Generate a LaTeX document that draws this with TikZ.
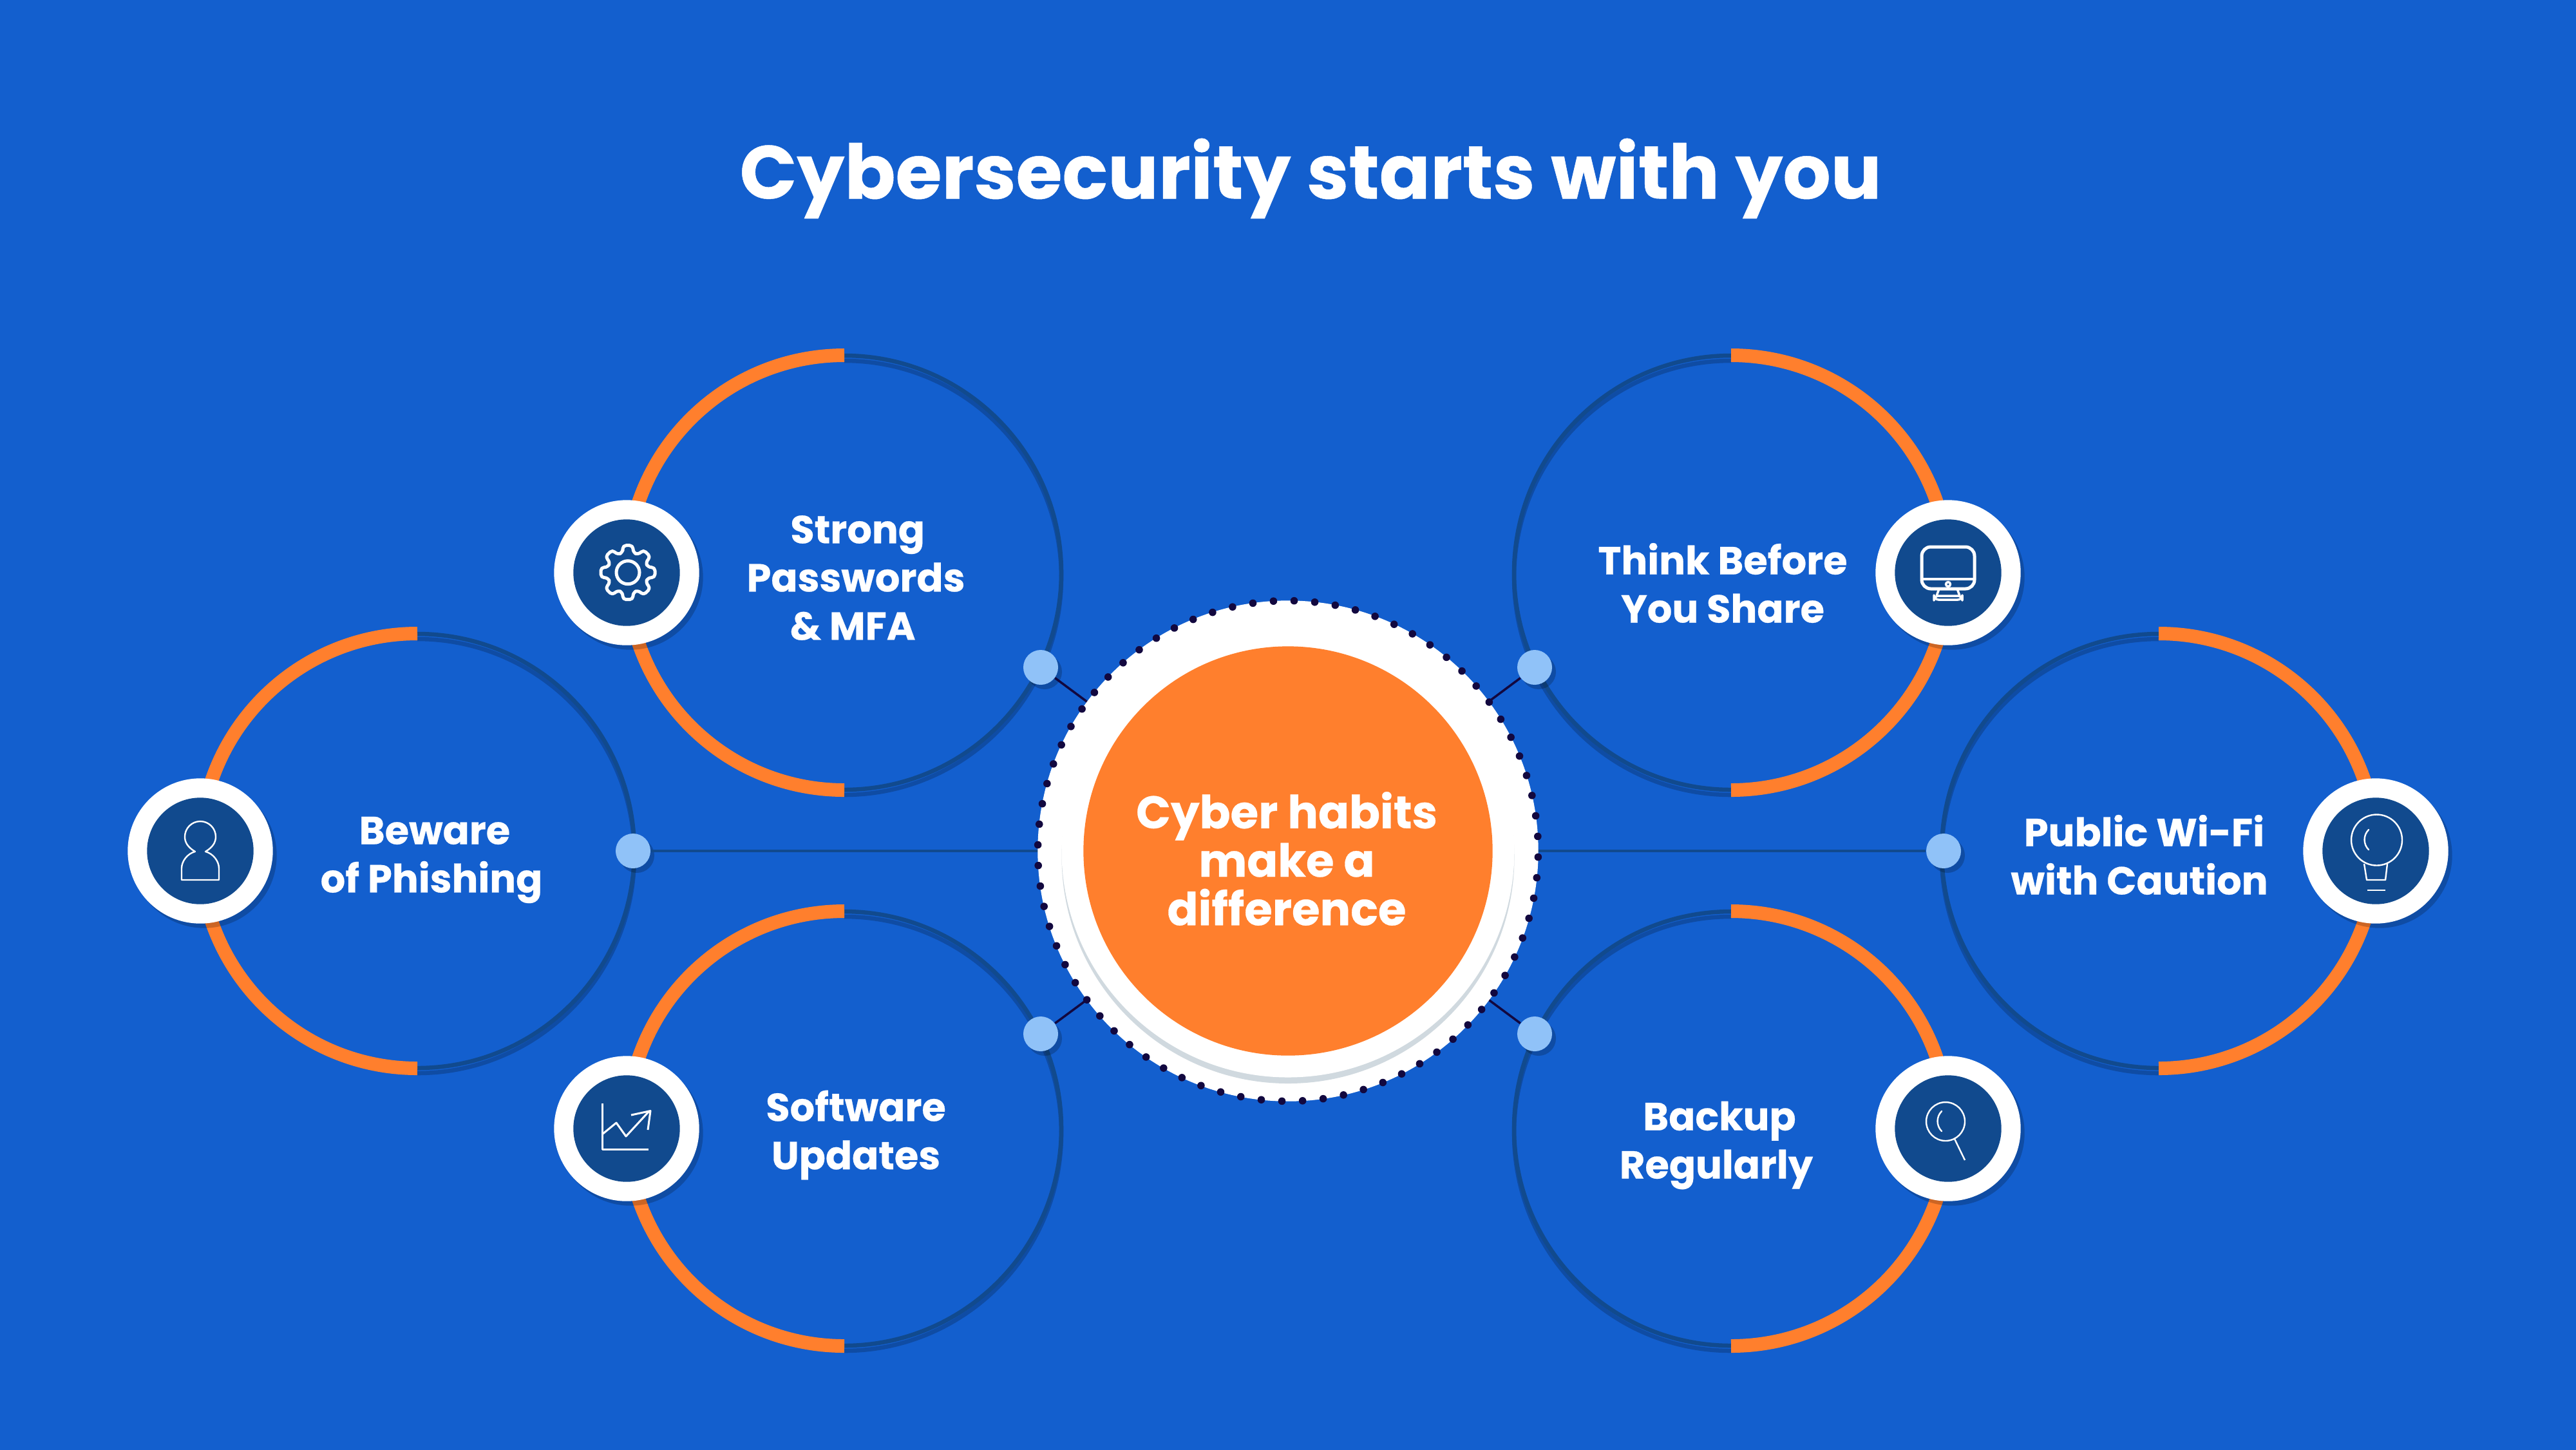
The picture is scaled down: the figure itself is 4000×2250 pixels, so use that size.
\documentclass[tikz,border=0pt]{standalone}
\usepackage{fontspec}
\setmainfont{Poppins}[BoldFeatures={FakeBold=0.4}]
\definecolor{bgblue}{HTML}{135FCE}
\definecolor{orng}{HTML}{FF7F2D}
\definecolor{darkring}{HTML}{114A8E}
\definecolor{lightdot}{HTML}{90C2F8}
\definecolor{navy}{HTML}{12083F}
\definecolor{crescent}{HTML}{D0D9DF}
\tikzset{
  x=0.01cm,y=-0.01cm,
  px/.style={line width=#1*0.2845pt},
  darkarc/.style={draw=darkring,px=6.5},
  shadearc/.style={draw=black,draw opacity=0.2,px=6.5},
  softfill/.style={fill=black,fill opacity=0.2},
  orngarc/.style={draw=orng,px=21},
  iconline/.style={draw=white,px=2.4,line join=round},
  iconlinebold/.style={draw=white,px=5,line join=round},
  lbl/.style={text=white,font=\fontsize{17.25}{21.3}\selectfont\bfseries,align=center,inner sep=0pt},
  hub/.style={circle,fill=white,minimum size=777*0.2845pt,inner sep=0pt},
  dotnode/.style={circle,fill=lightdot,minimum size=54*0.2845pt,inner sep=0pt},
}
\newcommand{\ringL}[2]{%
  \draw[shadearc] (#1,#2-329) arc[start angle=90,end angle=-90,x radius=337,y radius=-337];
  \draw[darkarc] (#1,#2-337) arc[start angle=90,end angle=-90,x radius=337,y radius=-337];
  \draw[orngarc] (#1,#2-337.5) arc[start angle=90,end angle=270,x radius=337.5,y radius=-337.5];
}
\newcommand{\ringR}[2]{%
  \draw[shadearc] (#1,#2-329) arc[start angle=90,end angle=270,x radius=337,y radius=-337];
  \draw[darkarc] (#1,#2-337) arc[start angle=90,end angle=270,x radius=337,y radius=-337];
  \draw[orngarc] (#1,#2-337.5) arc[start angle=90,end angle=-90,x radius=337.5,y radius=-337.5];
}
\newcommand{\badge}[2]{%
  \fill[softfill] (#1+6,#2+7) circle[radius=112.7];
  \fill[white] (#1,#2) circle[radius=112.7];
  \fill[darkring] (#1,#2) circle[radius=82.7];
}
\begin{document}
\begin{tikzpicture}
\useasboundingbox (0,0) rectangle (4000,2250);
\fill[bgblue] (-10,-10) rectangle (4010,2260);
\node[text=white,font=\fontsize{33.2}{40}\selectfont\bfseries,inner sep=0pt] (title) at (2035,277) {Cybersecurity starts with you};
% rings
\ringL{1311}{889}
\ringL{648}{1321}
\ringL{1311}{1752}
\ringR{2688}{889}
\ringR{3352}{1321}
\ringR{2688}{1752}
% connector end points
\coordinate (hubc) at (2000,1321);
\foreach \n/\p in {d1/{(1616,1036)},d2/{(983,1321)},d3/{(1616,1605)},d4/{(2383,1036)},d5/{(3018,1321)},d6/{(2383,1605)}}{
  \fill[softfill] \p ++(6,7) circle[radius=27];
}
\node[dotnode] (d1) at (1616,1036) {};
\node[dotnode] (d2) at (983,1321) {};
\node[dotnode] (d3) at (1616,1605) {};
\node[dotnode] (d4) at (2383,1036) {};
\node[dotnode] (d5) at (3018,1321) {};
\node[dotnode] (d6) at (2383,1605) {};
\draw[navy,px=3.5] (d1) -- (hubc);
\draw[navy,px=3.5] (d3) -- (hubc);
\draw[navy,px=3.5] (d4) -- (hubc);
\draw[navy,px=3.5] (d6) -- (hubc);
\draw[darkring,px=4] (d2) -- (hubc);
\draw[darkring,px=4] (d5) -- (hubc);
% hub
\node[hub] (hub) at (hubc) {};
\fill[crescent] (2000,1330.5) circle[radius=351.5];
\fill[white] (2000,1321) circle[radius=351.5];
\node[circle,fill=orng,minimum size=635*0.2845pt,inner sep=0pt] (core) at (2000,1321) {};
\node[text=white,font=\fontsize{20.1}{21.4}\selectfont\bfseries,align=center,inner sep=0pt] (corelbl) at (1998,1333) {Cyber habits\\make a\\difference};
\foreach \i in {0,...,75}{
  \fill[navy] ({2000+388.5*cos(-1.4+\i*4.7368)},{1321-388.5*sin(-1.4+\i*4.7368)}) circle[radius=5.8];
}
% badges
\badge{973}{889}
\badge{311}{1321}
\badge{973}{1752}
\badge{3025}{889}
\badge{3689}{1321}
\badge{3025}{1752}
% gear icon
\begin{scope}[shift={(975,888.7)}]
\draw[iconlinebold,rounded corners=1.5] (-8,-31)
  \foreach \a in {0,45,...,315}{
    \foreach \u/\v in {-8/-31,-8/-42,8/-42,8/-31}{
      -- ({(\u)*cos(\a)-(\v)*sin(\a)},{(\u)*sin(\a)+(\v)*cos(\a)})
    }
  } -- cycle;
\draw[iconlinebold] (0,0) circle[radius=18];
\end{scope}
% person icon
\begin{scope}[shift={(311,1321)}]
\draw[iconline] (-8,1) .. controls (-20,-6) and (-24,-14) .. (-24,-22) arc[start angle=180,end angle=0,radius=24,y radius=-24] .. controls (24,-14) and (20,-6) .. (8,1) .. controls (20,4) and (29,16) .. (29,27) -- (29,45) -- (-29,45) -- (-29,27) .. controls (-29,16) and (-20,4) .. (-8,1) -- cycle;
\end{scope}
% chart icon
\begin{scope}[shift={(973,1752)}]
\draw[iconline,px=3] (-38,-39) -- (-38,32) -- (34,32);
\draw[iconline,px=3] (-38,9) -- (-16,-9) -- (-1,12) -- (35,-27);
\draw[iconline,px=3] (7,-21) -- (37,-27.5) -- (33,2);
\end{scope}
% monitor icon
\begin{scope}[shift={(3025,889)}]
\draw[iconlinebold,rounded corners=4] (-41,-40) rectangle (41,25);
\draw[iconlinebold,px=3.5] (-41,10) -- (41,10);
\draw[iconline,px=3.5] (0,18) circle[radius=3.5];
\draw[iconlinebold,px=3.5] (-14,25) -- (-18,36);
\draw[iconlinebold,px=3.5] (14,25) -- (18,36);
\draw[iconlinebold,px=3.5,rounded corners=2] (-22,36) rectangle (22,42);
\end{scope}
% bulb icon
\begin{scope}[shift={(3689,1321)}]
\draw[iconline] (1.5,-17) circle[radius=39.5];
\draw[iconline,line cap=round] (-11,-33) arc[start angle=135,end angle=225,radius=22,y radius=-22];
\draw[iconline] (-18,20) -- (-14,45) -- (15,45) -- (18,20);
\draw[iconline] (-13,61) -- (15,61);
\end{scope}
% magnifier icon
\begin{scope}[shift={(3025,1752)}]
\draw[iconline] (-4,-11) circle[radius=30];
\draw[iconline,line cap=round] (-10,-27) arc[start angle=135,end angle=225,radius=22,y radius=-22];
\draw[iconline] (10,16) -- (26,49);
\end{scope}
% labels
\node[lbl] (t1) at (1329,897) {\hspace*{1.5pt}Strong\\Passwords\\\& MFA\hspace*{2.8pt}};
\node[lbl] (t2) at (670,1335) {\hspace*{2.8pt}Beware\\of Phishing};
\node[lbl] (t3) at (1329,1762) {Software\\Updates};
\node[lbl] (t4) at (2675,905) {Think Before\\You Share};
\node[lbl] (t5) at (3322,1327) {\hspace*{4.2pt}Public Wi-Fi\\with Caution};
\node[lbl] (t6) at (2665,1778) {\hspace*{2.8pt}Backup\\Regularly};
\end{tikzpicture}
\end{document}
